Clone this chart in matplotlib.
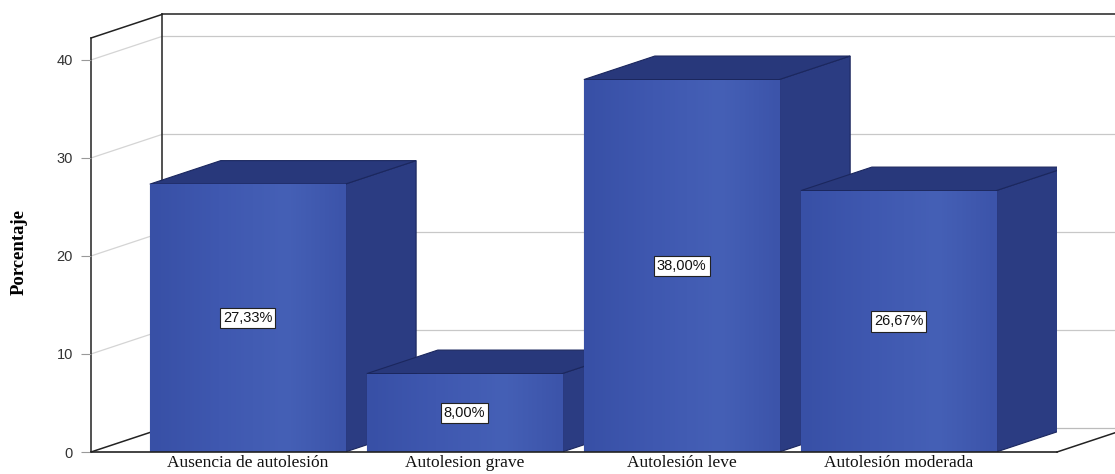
import numpy as np
import matplotlib.pyplot as plt
from matplotlib.patches import Polygon

categorias = ['Ausencia de autolesión', 'Autolesion grave', 'Autolesión leve', 'Autolesión moderada']
porcentajes = [27.33, 8.00, 38.00, 26.67]
etiquetas = ['27,33%', '8,00%', '38,00%', '26,67%']
ticks_y = [0, 10, 20, 30, 40]

# colores de las caras de la barra
c_frente = ['#3850a6', '#3f58b0', '#4560b6', '#3c54aa']
c_lado = '#2b3c82'
c_tapa = '#28387b'
c_borde = '#1b275e'

# desplazamiento de profundidad (pseudo 3D)
DX = 0.327
DY = 2.4
ANCHO = 0.90
XL, XR = -0.721, 3.730
YTOP = 42.24

fig = plt.figure(figsize=(11.15, 4.74), dpi=100)
ax = fig.add_axes([91 / 1115, 22 / 474, 966 / 1115, 414 / 474])
ax.set_xlim(XL, XR)
ax.set_ylim(0, YTOP)
for s in ax.spines.values():
    s.set_visible(False)

# rejilla en la pared del fondo y en la pared izquierda
for v in ticks_y[1:]:
    ax.plot([XL + DX, XR + DX + 0.5], [v + DY, v + DY], color='#c8c8c8', lw=0.9, zorder=0, clip_on=False)
    ax.plot([XL, XL + DX], [v, v + DY], color='#d4d4d4', lw=0.9, zorder=0, clip_on=False)
ax.plot([XL + DX, XR + DX + 0.5], [DY, DY], color='#bbbbbb', lw=0.9, zorder=0, clip_on=False)

# marco
k = dict(color='#222222', lw=1.1, zorder=1, clip_on=False)
ax.plot([XL, XL], [0, YTOP], **k)
ax.plot([XL + DX, XL + DX], [DY, YTOP + DY], **k)
ax.plot([XL, XL + DX], [YTOP, YTOP + DY], **k)
ax.plot([XL, XL + DX], [0, DY], **k)
ax.plot([XL + DX, XR + DX + 0.5], [YTOP + DY, YTOP + DY], **k)
ax.plot([XR, XR + DX], [0, DY], **k)

x = np.arange(len(categorias))
cmap = plt.matplotlib.colors.LinearSegmentedColormap.from_list(
    'f', list(zip([0, 0.35, 0.7, 1], c_frente)))
grad = np.linspace(0, 1, 64)[np.newaxis, :]

for i, (xi, v) in enumerate(zip(x, porcentajes)):
    z = 2 + i * 0.1
    x0, x1 = xi - ANCHO / 2, xi + ANCHO / 2
    lado = Polygon([(x1, 0), (x1 + DX, DY), (x1 + DX, v + DY), (x1, v)],
                   closed=True, fc=c_lado, ec=c_borde, lw=0.8, zorder=z)
    tapa = Polygon([(x0, v), (x0 + DX, v + DY), (x1 + DX, v + DY), (x1, v)],
                   closed=True, fc=c_tapa, ec=c_borde, lw=0.8, zorder=z)
    ax.add_patch(lado)
    ax.add_patch(tapa)
    b = ax.bar(xi, v, width=ANCHO, color=c_frente[0], edgecolor=c_borde, lw=0.8, zorder=z + 0.01)[0]
    im = ax.imshow(grad, extent=(x0, x1, 0, v), aspect='auto', cmap=cmap,
                   zorder=z + 0.02, interpolation='bilinear')
    im.set_clip_path(b)
    ax.text(xi, v / 2, etiquetas[i], ha='center', va='center', fontsize=10.5,
            family='Liberation Sans', color='#111111', zorder=5,
            bbox=dict(boxstyle='square,pad=0.22', fc='white', ec='#222222', lw=0.8))

ax.plot([XL, XR], [0, 0], color='#222222', lw=1.2, zorder=4, clip_on=False)

ax.set_xticks(x, categorias, fontsize=12.5, family='Liberation Serif', color='#111111')
ax.tick_params(axis='x', length=0, pad=2)
ax.set_yticks(ticks_y, [str(t) for t in ticks_y], fontsize=10.5, family='Liberation Sans', color='#333333')
ax.tick_params(axis='y', length=7, color='#999999', pad=6)
ax.set_ylabel('Porcentaje', fontsize=13.5, family='Liberation Serif', fontweight='bold')
ax.yaxis.set_label_coords(-0.066, 0.483)

fig.savefig('out.png', dpi=100)
